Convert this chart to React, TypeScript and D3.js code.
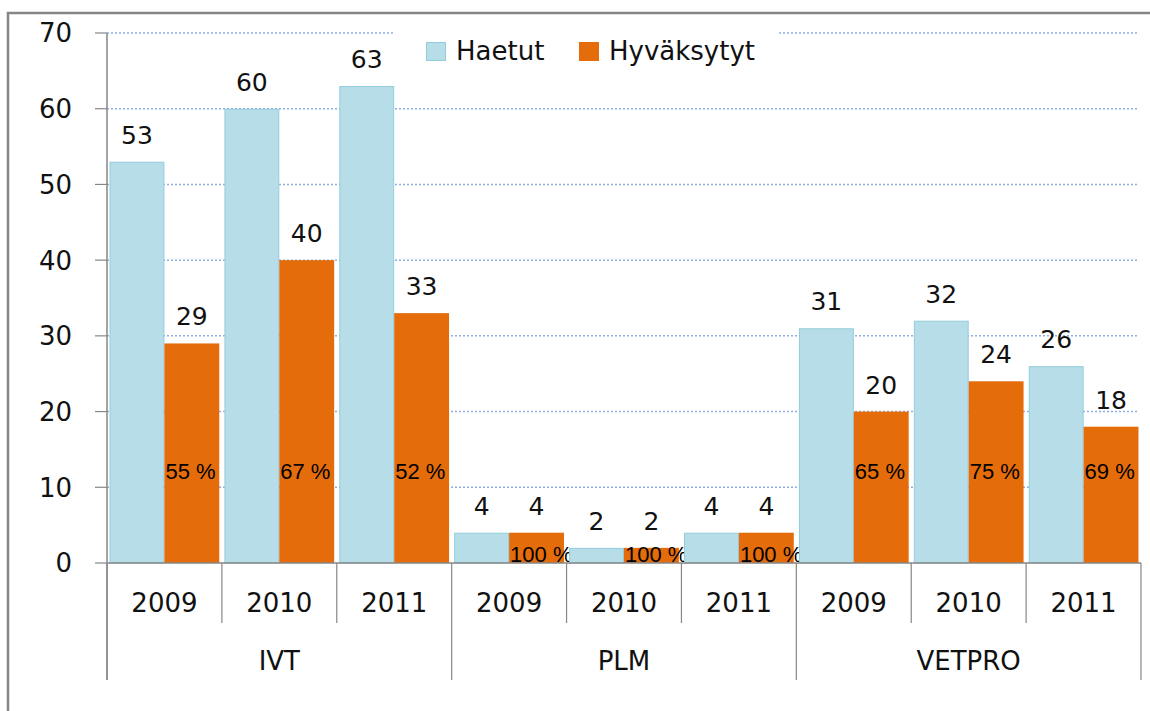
import * as d3 from 'd3';

const groups = ['IVT', 'PLM', 'VETPRO'];
const years = ['2009', '2010', '2011'];
const seriesNames = ['Haetut', 'Hyväksytyt'];
const haetut = [53, 60, 63, 4, 2, 4, 31, 32, 26];
const hyvaksytyt = [29, 40, 33, 4, 2, 4, 20, 24, 18];
const osuus = ['55 %', '67 %', '52 %', '100 %', '100 %', '100 %', '65 %', '75 %', '69 %'];
// height (in axis units) where the percentage label sits
const osuusAt = [12.2, 12.2, 12.2, 1.2, 1.2, 1.2, 12.2, 12.2, 12.2];
const yTicks = [0, 10, 20, 30, 40, 50, 60, 70];

const W = 1150;
const H = 711;
const colors = { haetut: '#b7dee8', haetutEdge: '#92cddc', hyv: '#e46c0a' };
const axisGray = '#868686';
const font = '"DejaVu Sans", Verdana, sans-serif';

export default function App() {
  const left = 107;
  const right = 1141;
  const y = d3.scaleLinear().domain([0, 70]).range([563, 33]);
  const y0 = y(0);

  const cats = groups.flatMap((g) => years.map((yr) => `${g}-${yr}`));
  const x = d3.scaleBand<string>().domain(cats).range([left, right]).paddingInner(0.045).paddingOuter(0.022);
  const xs = d3.scaleBand<string>().domain(seriesNames).range([0, x.bandwidth()]);
  const edge = d3.scaleLinear().domain([0, cats.length]).range([left, right]);

  const yearLabelY = 603;
  const groupLabelY = 661;
  const yearTickEnd = 623;
  const groupTickEnd = 680;

  return (
    <svg width={W} height={H} style={{ position: 'absolute', left: 0, top: 0, background: '#fff' }}>
      <rect x={8} y={13} width={1160} height={720} fill="#fff" stroke={axisGray} strokeWidth={2.5} />

      {/* gridlines */}
      {yTicks.filter((t) => t > 0).map((t) => (
        <line key={t} x1={left} x2={right - 2} y1={y(t)} y2={y(t)} stroke="#8eaee0" strokeWidth={1.5} strokeDasharray="2,2" />
      ))}

      {/* legend */}
      <g>
        <rect x={393} y={18} width={384} height={50} fill="#fff" />
        <rect x={426.5} y={42.5} width={19} height={18} fill={colors.haetut} stroke={colors.haetutEdge} strokeWidth={1} />
        <text x={456} y={60} fontFamily={font} fontSize={26} fill="#111">{seriesNames[0]}</text>
        <rect x={579} y={42} width={20} height={19} fill={colors.hyv} />
        <text x={609} y={60} fontFamily={font} fontSize={26} fill="#111">{seriesNames[1]}</text>
      </g>

      {/* bars */}
      {cats.map((c, i) => {
        const bx = x(c)!;
        const hx = bx + xs(seriesNames[0])!;
        const ax = bx + xs(seriesNames[1])!;
        const w = xs.bandwidth();
        return (
          <g key={c}>
            <rect x={hx + 0.5} y={y(haetut[i]) + 0.5} width={w - 1} height={y0 - y(haetut[i]) - 0.5}
              fill={colors.haetut} stroke={colors.haetutEdge} strokeWidth={1} />
            <rect x={ax} y={y(hyvaksytyt[i])} width={w} height={y0 - y(hyvaksytyt[i])} fill={colors.hyv} />
            <text x={hx + w / 2} y={y(haetut[i]) - 18} textAnchor="middle" fontFamily={font} fontSize={25} fill="#111">
              {haetut[i]}
            </text>
            <text x={ax + w / 2} y={y(hyvaksytyt[i]) - 18} textAnchor="middle" fontFamily={font} fontSize={25} fill="#111">
              {hyvaksytyt[i]}
            </text>
            <text x={ax + 1} y={y(osuusAt[i])} dy="0.36em" fontFamily='"Liberation Sans", Arial, sans-serif' fontSize={22} fill="#000">
              {osuus[i]}
            </text>
          </g>
        );
      })}

      {/* y axis */}
      <line x1={left} x2={left} y1={y(70)} y2={groupTickEnd} stroke={axisGray} strokeWidth={1.5} />
      {yTicks.map((t) => (
        <g key={t}>
          <line x1={95} x2={left} y1={y(t)} y2={y(t)} stroke={axisGray} strokeWidth={1.2} />
          <text x={72} y={y(t)} dy="0.36em" textAnchor="end" fontFamily={font} fontSize={26} fill="#111">{t}</text>
        </g>
      ))}

      {/* x axis */}
      <line x1={left} x2={right} y1={y0} y2={y0} stroke={axisGray} strokeWidth={1.5} />
      {d3.range(cats.length + 1).map((i) => (
        <line key={i} x1={edge(i)} x2={edge(i)} y1={y0} y2={i % 3 === 0 ? groupTickEnd : yearTickEnd}
          stroke={axisGray} strokeWidth={1.2} />
      ))}
      {cats.map((c, i) => (
        <text key={c} x={(edge(i) + edge(i + 1)) / 2} y={yearLabelY} dy="0.36em" textAnchor="middle"
          fontFamily={font} fontSize={26} fill="#111">
          {years[i % 3]}
        </text>
      ))}
      {groups.map((g, gi) => (
        <text key={g} x={(edge(gi * 3) + edge(gi * 3 + 3)) / 2} y={groupLabelY} dy="0.36em" textAnchor="middle"
          fontFamily={font} fontSize={26} fill="#111">
          {g}
        </text>
      ))}
    </svg>
  );
}
